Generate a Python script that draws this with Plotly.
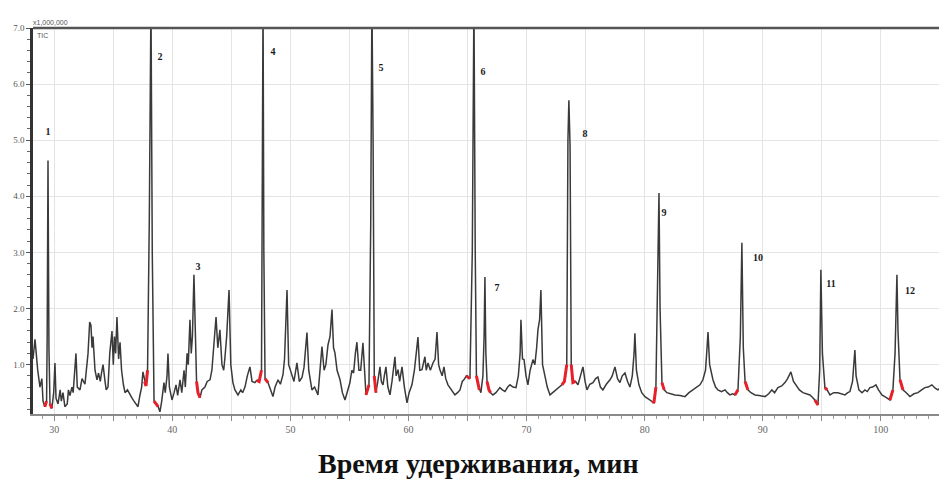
import plotly.graph_objects as go

# Retention time (min) and TIC intensity (x1,000,000)
time_min = [
    28.20, 28.37, 28.60, 28.79, 28.95, 29.05, 29.20, 29.35,
    29.40, 29.47, 29.55, 29.64, 29.80, 29.95, 30.06, 30.15, 30.32, 30.50, 30.60, 30.74,
    30.90, 31.10, 31.20, 31.33, 31.50, 31.60, 31.84, 31.95, 32.18, 32.35, 32.60, 32.75,
    32.86, 33.00, 33.11, 33.20, 33.28, 33.45, 33.62, 33.75, 33.90, 34.00, 34.13, 34.30,
    34.40, 34.55, 34.70, 34.89, 35.00, 35.10, 35.20, 35.31, 35.45, 35.57, 35.70, 35.85,
    35.99, 36.20, 36.41, 36.60, 36.75, 36.90, 37.09, 37.25, 37.40, 37.51, 37.65, 37.77, 37.90,
    38.05, 38.19, 38.30, 38.45, 38.60, 38.80, 38.95, 39.10, 39.29, 39.40, 39.55, 39.63,
    39.75, 39.97, 40.15, 40.31, 40.45, 40.65, 40.80, 40.99, 41.10, 41.25, 41.35, 41.49,
    41.60, 41.70, 41.83, 41.95, 42.05, 42.17, 42.34, 42.50, 42.76, 42.95, 43.19, 43.35,
    43.50, 43.70, 43.85, 44.03, 44.20, 44.35, 44.46, 44.60, 44.80, 44.95, 45.13, 45.30,
    45.56, 45.80, 45.95, 46.15, 46.35, 46.57, 46.75, 46.99, 47.15, 47.35, 47.55,
    47.62, 47.68, 47.75, 47.85, 48.10, 48.30, 48.52, 48.70, 48.95, 49.15, 49.37, 49.50,
    49.71, 49.85, 50.13, 50.30, 50.55, 50.75, 50.98, 51.15, 51.40, 51.55, 51.82, 52.05,
    52.33, 52.50, 52.67, 52.85, 53.00, 53.18, 53.35, 53.52, 53.65, 53.77, 53.95, 54.20,
    54.40, 54.62, 54.80, 55.04, 55.20, 55.35, 55.50, 55.63, 55.80, 55.95, 56.14, 56.30,
    56.40, 56.65, 56.80,
    56.90, 57.00, 57.10, 57.24, 57.40, 57.58, 57.70, 57.84, 57.95, 58.09, 58.25, 58.43,
    58.60, 58.85, 58.95, 59.11, 59.25, 59.45, 59.65, 59.87, 60.05, 60.29, 60.50, 60.80,
    60.95, 61.14, 61.39, 61.50, 61.65, 61.85, 62.07, 62.25, 62.41, 62.55, 62.66, 62.85,
    63.00, 63.15, 63.34, 63.60, 63.93, 64.15, 64.36, 64.55, 64.69, 64.90, 65.03, 65.20, 65.40,
    65.54, 65.65, 65.75, 65.88, 66.00, 66.13, 66.30, 66.40, 66.47, 66.55, 66.65, 66.81,
    66.95, 67.15, 67.40, 67.74, 67.95, 68.17, 68.40, 68.59, 68.85, 69.10, 69.30, 69.45,
    69.52, 69.65, 69.78, 69.95, 70.11, 70.30, 70.54, 70.70, 70.85, 70.96, 71.10, 71.21,
    71.35, 71.55, 71.75, 71.98, 72.20, 72.48, 72.75, 72.99, 73.20, 73.40, 73.50,
    73.58, 73.68, 73.78, 73.92, 74.15, 74.35, 74.55, 74.77, 74.95, 75.11, 75.35, 75.62,
    75.85, 76.04, 76.25, 76.46, 76.75, 77.06, 77.25, 77.48, 77.70, 77.90, 78.10, 78.33,
    78.55, 78.75, 78.95, 79.10, 79.17, 79.30, 79.51, 79.75, 80.02, 80.25, 80.44, 80.65,
    80.78, 80.95, 81.10,
    81.21, 81.30, 81.46, 81.65, 81.88, 82.20, 82.56, 83.00, 83.41, 83.75, 84.08, 84.40,
    84.68, 84.93, 85.15, 85.28, 85.36, 85.50, 85.78, 86.00, 86.20, 86.50, 86.80, 87.00,
    87.22, 87.45, 87.64, 87.90, 88.10,
    88.23, 88.35, 88.50, 88.74, 89.00, 89.34, 89.70, 90.19, 90.50, 90.77, 91.00, 91.28,
    91.60, 91.88, 92.10, 92.38, 92.60, 92.81, 93.10, 93.40, 93.70, 93.99, 94.20, 94.41,
    94.67, 94.82,
    94.92, 95.05, 95.26, 95.45, 95.69, 96.00, 96.36, 96.70, 96.96, 97.20, 97.38, 97.60,
    97.72, 97.80, 97.90, 98.14, 98.40, 98.65, 98.85, 99.07, 99.30, 99.58, 99.80, 100.09,
    100.40, 100.77, 101.02, 101.20,
    101.36, 101.45, 101.62, 101.87, 102.15, 102.46, 102.80, 103.14, 103.45, 103.73, 104.00,
    104.32, 104.60, 104.83, 105.10, 105.43, 105.60,
]

intensity = [
    1.10, 1.45, 0.90, 0.60, 0.75, 0.35, 0.25, 0.35,
    1.50, 4.64, 1.30, 0.30, 0.22, 0.50, 1.03, 0.40, 0.30, 0.55, 0.35, 0.50,
    0.25, 0.30, 0.55, 0.45, 0.60, 0.50, 1.20, 0.60, 0.55, 0.75, 0.65, 1.00,
    1.20, 1.76, 1.70, 1.30, 1.50, 0.90, 0.73, 0.85, 0.70, 0.85, 1.00, 0.70,
    0.55, 0.60, 1.20, 1.60, 1.00, 1.50, 1.20, 1.85, 1.10, 1.40, 0.90, 0.65,
    0.50, 0.55, 0.46, 0.40, 0.35, 0.30, 0.25, 0.45, 0.60, 0.87, 0.70, 0.62, 0.90,
    3.60, 7.50, 3.00, 0.35, 0.30, 0.25, 0.16, 0.35, 0.68, 0.50, 0.80, 1.20,
    0.60, 0.37, 0.50, 0.64, 0.45, 0.73, 0.50, 0.90, 0.60, 1.20, 1.00, 1.80,
    1.20, 1.50, 2.60, 1.20, 0.70, 0.50, 0.41, 0.55, 0.60, 0.70, 0.73, 0.90,
    1.30, 1.85, 1.30, 1.62, 1.00, 0.90, 1.14, 1.50, 2.33, 1.00, 0.68, 0.55,
    0.46, 0.55, 0.50, 0.60, 0.80, 0.96, 0.70, 0.68, 0.72, 0.70, 0.90,
    3.30, 7.50, 3.00, 0.75, 0.68, 0.55, 0.43, 0.60, 0.73, 0.65, 0.82, 1.10,
    2.33, 1.00, 0.82, 0.70, 1.03, 0.70, 0.77, 0.95, 1.57, 0.90, 0.55, 0.60,
    0.46, 0.90, 1.32, 0.90, 1.00, 1.35, 1.50, 1.98, 1.30, 1.21, 0.90, 0.73,
    0.50, 0.37, 0.50, 0.68, 0.90, 0.85, 1.20, 1.40, 0.90, 0.90, 1.39, 0.70,
    0.46, 0.64, 3.50,
    7.50, 5.00, 0.80, 0.50, 0.70, 0.96, 0.70, 0.64, 0.80, 0.96, 0.60, 0.46,
    0.70, 1.14, 0.80, 0.91, 0.70, 0.96, 0.60, 0.32, 0.50, 0.64, 0.90, 1.49,
    0.90, 0.91, 1.14, 0.90, 1.03, 0.90, 1.03, 1.10, 1.58, 1.00, 0.91, 0.80,
    0.96, 0.75, 0.64, 0.55, 0.46, 0.50, 0.55, 0.70, 0.73, 0.80, 0.77, 0.75, 3.00,
    7.50, 3.00, 0.80, 0.64, 0.55, 0.50, 0.80, 1.50, 2.56, 1.20, 0.70, 0.55,
    0.50, 0.46, 0.50, 0.59, 0.55, 0.52, 0.60, 0.64, 0.60, 0.59, 0.80, 1.20,
    1.80, 1.10, 1.09, 0.80, 0.64, 0.90, 1.09, 1.00, 1.30, 1.62, 1.80, 2.33,
    1.00, 0.82, 0.60, 0.46, 0.50, 0.55, 0.60, 0.64, 0.70, 1.00, 5.00,
    5.71, 4.90, 1.00, 0.68, 0.70, 0.64, 0.80, 0.96, 0.70, 0.55, 0.65, 0.68,
    0.75, 0.78, 0.60, 0.55, 0.65, 0.73, 0.80, 0.96, 0.75, 0.68, 0.80, 0.85,
    0.70, 0.60, 0.80, 1.20, 1.56, 0.90, 0.64, 0.50, 0.43, 0.40, 0.37, 0.35,
    0.32, 0.60, 2.50,
    4.06, 2.00, 0.68, 0.55, 0.50, 0.48, 0.46, 0.45, 0.43, 0.50, 0.55, 0.60,
    0.64, 0.73, 0.90, 1.30, 1.58, 1.00, 0.73, 0.60, 0.55, 0.52, 0.55, 0.50,
    0.46, 0.48, 0.46, 0.55, 1.50,
    3.17, 1.30, 0.70, 0.55, 0.50, 0.46, 0.45, 0.43, 0.48, 0.55, 0.50, 0.59,
    0.62, 0.68, 0.75, 0.87, 0.70, 0.64, 0.55, 0.50, 0.48, 0.46, 0.42, 0.37,
    0.28, 0.90,
    2.69, 1.20, 0.59, 0.55, 0.46, 0.50, 0.50, 0.48, 0.46, 0.50, 0.52, 0.70,
    1.00, 1.26, 0.80, 0.55, 0.50, 0.55, 0.52, 0.59, 0.60, 0.64, 0.55, 0.46,
    0.42, 0.37, 0.55, 1.20,
    2.60, 1.60, 0.73, 0.55, 0.50, 0.43, 0.48, 0.50, 0.55, 0.59, 0.60,
    0.64, 0.58, 0.55, 0.60, 0.64, 0.60,
]

# Integration start/end markers (red) around the numbered peaks
red_time = [
    29.20, 29.35, None, 29.64, 29.80, None,
    37.65, 37.77, 37.90, None, 38.45, 38.60, 38.80, None,
    42.05, 42.17, 42.34, None,
    47.15, 47.35, 47.55, None, 47.85, 48.10, None,
    56.40, 56.65, None, 57.10, 57.24, None,
    64.90, 65.03, 65.20, None, 65.75, 65.88, 66.00, None,
    66.65, 66.81, 66.95, None,
    72.99, 73.20, 73.40, None, 73.78, 73.92, 74.15, None,
    80.65, 80.78, 80.95, None, 81.46, 81.65, None,
    87.64, 87.90, None, 88.50, 88.74, None,
    94.41, 94.67, None, 95.26, 95.45, None,
    100.77, 101.02, None, 101.62, 101.87,
]
red_intensity = [
    0.25, 0.35, None, 0.30, 0.22, None,
    0.70, 0.62, 0.90, None, 0.35, 0.30, 0.25, None,
    0.70, 0.50, 0.41, None,
    0.72, 0.70, 0.90, None, 0.75, 0.68, None,
    0.46, 0.64, None, 0.80, 0.50, None,
    0.80, 0.77, 0.75, None, 0.80, 0.64, 0.55, None,
    0.70, 0.55, 0.50, None,
    0.64, 0.70, 1.00, None, 1.00, 0.68, 0.70, None,
    0.35, 0.32, 0.60, None, 0.68, 0.55, None,
    0.46, 0.55, None, 0.70, 0.55, None,
    0.37, 0.28, None, 0.59, 0.55, None,
    0.37, 0.55, None, 0.73, 0.55,
]

# Peak number labels
label_text = ["1", "2", "3", "4", "5", "6", "7", "8", "9", "10", "11", "12"]
label_time = [29.47, 38.95, 42.17, 48.52, 57.67, 66.30, 67.49, 74.94, 81.63, 89.59, 95.77, 102.46]
label_int = [5.14, 6.48, 2.74, 6.57, 6.28, 6.21, 2.35, 5.11, 3.70, 2.90, 2.42, 2.30]

x_tick_vals = [30, 35, 40, 45, 50, 55, 60, 65, 70, 75, 80, 85, 90, 95, 100, 105]
x_tick_text = ["30", "", "40", "", "50", "", "60", "", "70", "", "80", "", "90", "", "100", ""]
y_tick_vals = [1, 2, 3, 4, 5, 6, 7]
y_tick_text = ["1.0", "2.0", "3.0", "4.0", "5.0", "6.0", "7.0"]

fig = go.Figure()
fig.add_trace(go.Scatter(
    x=time_min, y=intensity, mode="lines",
    line=dict(color="#3a3a3a", width=1.5),
    showlegend=False, hoverinfo="skip",
))
fig.add_trace(go.Scatter(
    x=red_time, y=red_intensity, mode="lines",
    line=dict(color="#e8202a", width=3),
    connectgaps=False, showlegend=False, hoverinfo="skip",
))
fig.add_trace(go.Scatter(
    x=label_time, y=label_int, mode="text", text=label_text,
    textfont=dict(family="Liberation Serif", size=10, color="#1a1a1a", weight="bold"),
    textposition="middle center",
    showlegend=False, hoverinfo="skip",
))

# The page body adds an 8px margin, so the figure is sized to fit the window.
fig.update_layout(
    width=939, height=491,
    margin=dict(l=25, r=0, t=20, b=85, autoexpand=False),
    paper_bgcolor="white", plot_bgcolor="white",
    font=dict(family="Liberation Serif", color="#555"),
    xaxis=dict(
        range=[28.2, 105.6], automargin=False,
        tickvals=x_tick_vals, ticktext=x_tick_text,
        showgrid=True, gridcolor="#e4e4e4", gridwidth=1,
        showline=True, linecolor="#8a8a8a", linewidth=2,
        ticks="outside", ticklen=5, tickcolor="#8a8a8a",
        minor=dict(dtick=1, ticks="outside", ticklen=3, tickcolor="#9a9a9a", showgrid=False),
        tickfont=dict(size=10, color="#666"),
        zeroline=False,
    ),
    yaxis=dict(
        range=[0.12, 7.0], automargin=False,
        tickvals=y_tick_vals, ticktext=y_tick_text,
        showgrid=True, gridcolor="#e4e4e4", gridwidth=1,
        showline=True, linecolor="#333", linewidth=2.5,
        ticks="outside", ticklen=4, tickcolor="#555",
        minor=dict(dtick=0.2, tick0=0, ticks="outside", ticklen=3, tickcolor="#666", showgrid=False),
        tickfont=dict(size=9, color="#555"),
        zeroline=False,
    ),
    shapes=[dict(type="line", xref="paper", yref="paper", x0=0, x1=1, y0=1, y1=1,
                 line=dict(color="#555", width=2.5))],
    annotations=[
        dict(text="Время удерживания, мин", xref="paper", yref="paper",
             x=0.487, y=-0.127, xanchor="center", yanchor="middle", showarrow=False,
             font=dict(family="Liberation Serif", size=28, color="#111", weight="bold")),
        dict(text="x1,000,000", xref="paper", yref="paper", x=-0.002, y=1.0,
             xanchor="left", yanchor="bottom", showarrow=False,
             font=dict(family="Liberation Sans", size=7, color="#555")),
        dict(text="TIC", xref="paper", yref="paper", x=0.002, y=0.995,
             xanchor="left", yanchor="top", showarrow=False,
             font=dict(family="Liberation Sans", size=7, color="#555")),
    ],
)

fig.write_html("out.html")
